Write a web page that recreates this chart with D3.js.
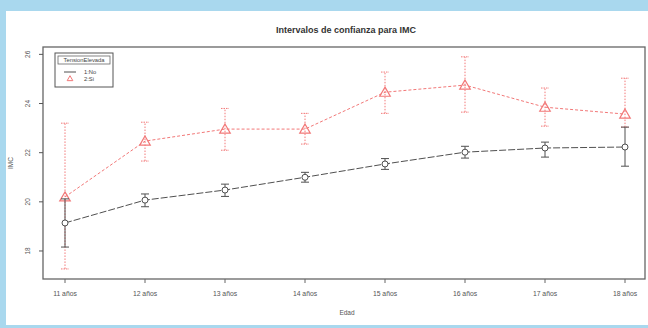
<!DOCTYPE html>
<html><head><meta charset="utf-8">
<script src="https://cdn.jsdelivr.net/npm/d3@7"></script>
<style>
html,body{margin:0;padding:0;background:#fff;}
svg{display:block;font-family:"Liberation Sans",Arial,sans-serif;}
</style></head>
<body>
<svg id="chart" width="648" height="328"></svg>
<script>
const categories = ["11 años","12 años","13 años","14 años","15 años","16 años","17 años","18 años"];
const noMean  = [19.14, 20.07, 20.48, 21.00, 21.54, 22.02, 22.19, 22.23];
const noLow   = [18.16, 19.80, 20.22, 20.80, 21.32, 21.78, 21.82, 21.45];
const noHigh  = [20.12, 20.32, 20.72, 21.20, 21.76, 22.26, 22.43, 23.04];
const siMean  = [20.20, 22.47, 22.96, 22.96, 24.46, 24.75, 23.85, 23.57];
const siLow   = [17.27, 21.66, 22.10, 22.35, 23.60, 23.65, 23.08, 23.04];
const siHigh  = [23.20, 23.24, 23.80, 23.60, 25.28, 25.90, 24.63, 25.03];
const yTicks  = [18, 20, 22, 24, 26];
const legendLabels = ["1:No", "2:Si"];

const svg = d3.select("#chart");
const W = 648, H = 328;
const blue = "#a9d8ee";
svg.append("rect").attr("x",0).attr("y",0).attr("width",W).attr("height",H).attr("fill",blue);
svg.append("rect").attr("x",6).attr("y",11).attr("width",W-6).attr("height",314).attr("fill","#fff");

const box = {l:43, r:645, t:47, b:279};
const x = d3.scaleLinear().domain([-0.275, 7.25]).range([box.l, box.r]);
const y = d3.scaleLinear().domain([16.86, 26.3]).range([box.b, box.t]);

const grayC = "#505050", redC = "#f27878";

svg.append("text").attr("x",346).attr("y",33).attr("text-anchor","middle")
  .attr("font-size",9).attr("font-weight","bold").attr("fill","#333")
  .text("Intervalos de confianza para IMC");

svg.append("rect").attr("x",box.l).attr("y",box.t).attr("width",box.r-box.l).attr("height",box.b-box.t)
  .attr("fill","none").attr("stroke","#666").attr("stroke-width",1.3);

yTicks.forEach(t=>{
  svg.append("line").attr("x1",box.l-4).attr("x2",box.l).attr("y1",y(t)).attr("y2",y(t)).attr("stroke","#555");
  svg.append("text").attr("transform",`translate(30,${y(t)}) rotate(-90)`).attr("text-anchor","middle")
    .attr("font-size",6.5).attr("fill","#555").text(t);
});
svg.append("text").attr("transform",`translate(13,${(box.t+box.b)/2}) rotate(-90)`).attr("text-anchor","middle")
  .attr("font-size",6.5).attr("fill","#555").text("IMC");

categories.forEach((c,i)=>{
  svg.append("line").attr("x1",x(i)).attr("x2",x(i)).attr("y1",box.b).attr("y2",box.b+4).attr("stroke","#666");
  svg.append("text").attr("x",x(i)).attr("y",296).attr("text-anchor","middle")
    .attr("font-size",6.8).attr("fill","#555").text(c);
});
svg.append("text").attr("x",347).attr("y",315).attr("text-anchor","middle")
  .attr("font-size",6.5).attr("fill","#555").text("Edad");

const line = d3.line().x((d,i)=>x(i)).y(d=>y(d));
const cap = 4;

// red series
svg.append("path").attr("d",line(siMean)).attr("fill","none").attr("stroke",redC)
  .attr("stroke-width",1).attr("stroke-dasharray","3,2");
siMean.forEach((m,i)=>{
  const g = svg.append("g").attr("stroke",redC).attr("stroke-width",1);
  g.append("line").attr("x1",x(i)).attr("x2",x(i)).attr("y1",y(siLow[i])).attr("y2",y(siHigh[i])).attr("stroke-dasharray","1.5,1.5");
  g.append("line").attr("x1",x(i)-cap).attr("x2",x(i)+cap).attr("y1",y(siLow[i])).attr("y2",y(siLow[i])).attr("stroke-dasharray","1.5,1");
  g.append("line").attr("x1",x(i)-cap).attr("x2",x(i)+cap).attr("y1",y(siHigh[i])).attr("y2",y(siHigh[i])).attr("stroke-dasharray","1.5,1");
});
svg.selectAll(".tri").data(siMean).enter().append("path")
  .attr("d",d3.symbol().type(d3.symbolTriangle).size(48))
  .attr("transform",(d,i)=>`translate(${x(i)},${y(d)+1})`)
  .attr("fill","none").attr("stroke",redC).attr("stroke-width",1.2);

// black series
svg.append("path").attr("d",line(noMean)).attr("fill","none").attr("stroke",grayC)
  .attr("stroke-width",1).attr("stroke-dasharray","7,2");
noMean.forEach((m,i)=>{
  const g = svg.append("g").attr("stroke",grayC).attr("stroke-width",1);
  g.append("line").attr("x1",x(i)).attr("x2",x(i)).attr("y1",y(noLow[i])).attr("y2",y(noHigh[i]));
  g.append("line").attr("x1",x(i)-cap).attr("x2",x(i)+cap).attr("y1",y(noLow[i])).attr("y2",y(noLow[i]));
  g.append("line").attr("x1",x(i)-cap).attr("x2",x(i)+cap).attr("y1",y(noHigh[i])).attr("y2",y(noHigh[i]));
});
svg.selectAll(".circ").data(noMean).enter().append("circle")
  .attr("cx",(d,i)=>x(i)).attr("cy",d=>y(d)).attr("r",3)
  .attr("fill","#fff").attr("stroke",grayC).attr("stroke-width",1);

// legend
const lg = svg.append("g");
lg.append("rect").attr("x",55).attr("y",53).attr("width",58).attr("height",34)
  .attr("fill","#fff").attr("stroke","#555").attr("stroke-width",1);
lg.append("rect").attr("x",58).attr("y",56).attr("width",52).attr("height",8)
  .attr("fill","#fff").attr("stroke","#666").attr("stroke-width",0.8);
lg.append("text").attr("x",84).attr("y",62.3).attr("text-anchor","middle").attr("font-size",5.8)
  .attr("fill","#444").text("TensionElevada");
lg.append("line").attr("x1",64).attr("x2",76).attr("y1",72).attr("y2",72).attr("stroke",grayC).attr("stroke-width",1);
lg.append("text").attr("x",84).attr("y",74).attr("font-size",5.8).attr("fill","#444").text(legendLabels[0]);
lg.append("path").attr("d",d3.symbol().type(d3.symbolTriangle).size(14)).attr("transform","translate(70,79)")
  .attr("fill","none").attr("stroke",redC).attr("stroke-width",1);
lg.append("text").attr("x",84).attr("y",81).attr("font-size",5.8).attr("fill","#444").text(legendLabels[1]);
</script>
</body></html>
